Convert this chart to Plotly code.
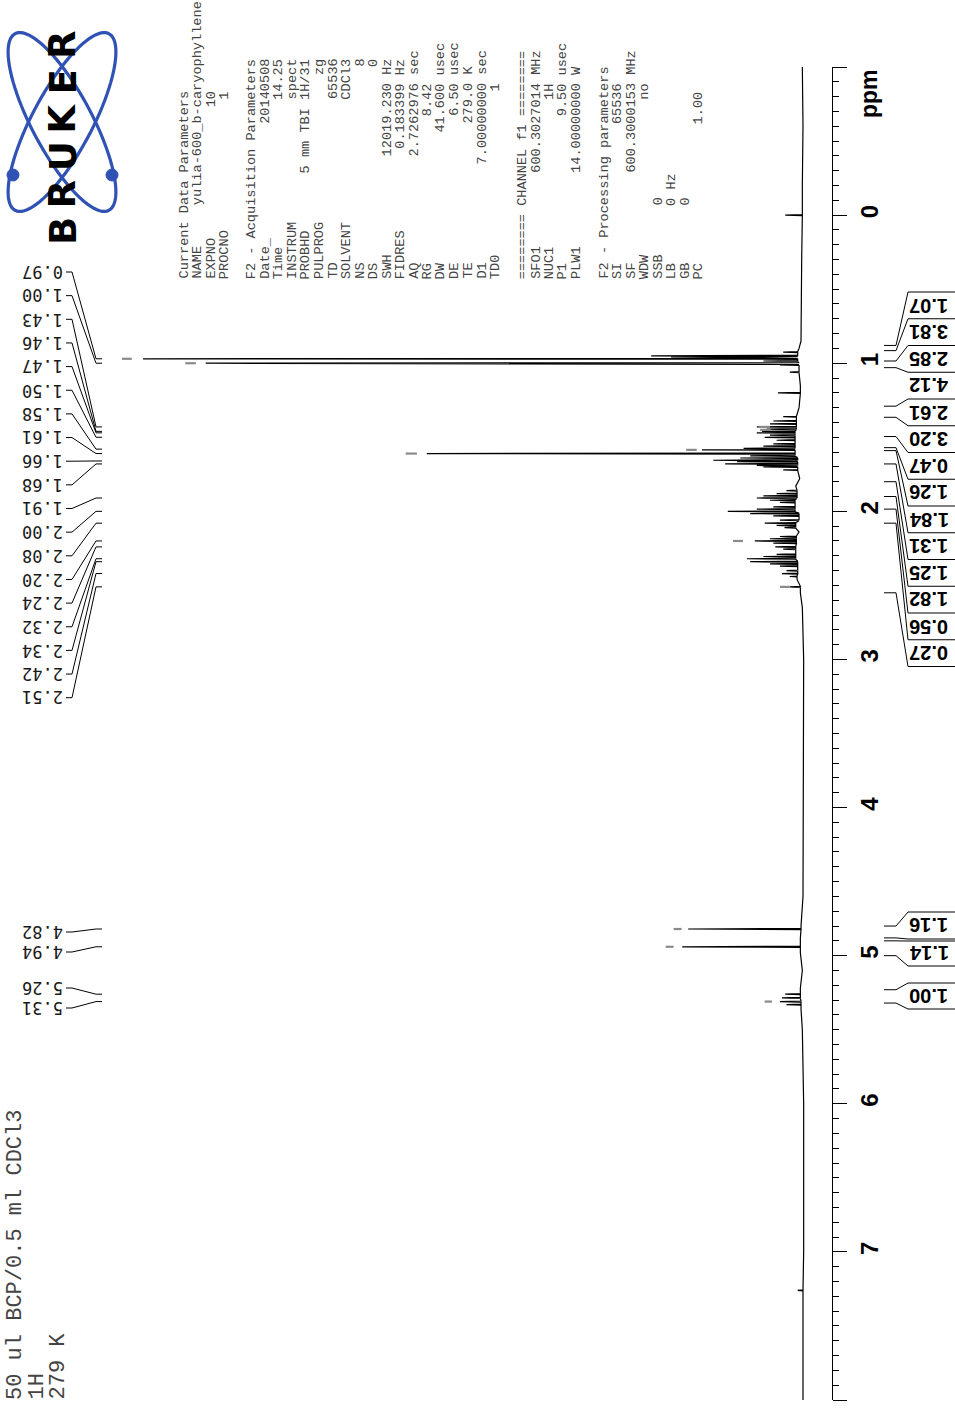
import numpy as np
import plotly.graph_objects as go

# ---------------- data ----------------
# spectrum baseline control points (ppm, relative intensity)
baseline_ppm = [-1.00, -0.60, -0.20, 0.30, 0.60, 0.85, 0.90, 0.94, 1.05, 1.15, 1.30, 1.36, 1.53, 1.72, 1.78,
                1.83, 1.87, 1.96, 2.05, 2.10, 2.14, 2.19, 2.27, 2.38, 2.46, 2.55, 2.65, 3.00, 4.00, 4.60,
                4.80, 4.88, 4.98, 5.10, 5.22, 5.36, 5.50, 6.00, 7.00, 7.20, 8.00]
baseline_int = [0.1, 0.0, 0.1, 0.2, 0.3, 0.3, 0.6, 0.8, 0.6, 0.4, 0.6, 1.0, 1.2, 0.8, 0.5,
                1.1, 0.9, 1.2, 0.6, 1.1, 0.6, 1.0, 1.1, 0.8, 0.9, 0.4, 0.1, -0.1, -0.1, 0.0,
                0.3, 0.4, 0.4, 0.1, 0.4, 0.3, 0.1, -0.1, -0.1, 0.0, 0.0]

# peak lines (ppm, relative intensity, tallest = 100)
peak_ppm = [0.000, 0.925, 0.950, 0.958, 0.970, 0.985, 1.000, 1.012, 1.060, 1.200,
            1.360, 1.390, 1.410, 1.430, 1.445, 1.460, 1.470, 1.485, 1.500, 1.520,
            1.545, 1.560, 1.575, 1.585, 1.610, 1.625, 1.640, 1.655, 1.665, 1.680,
            1.690, 1.700, 1.720, 1.860, 1.880, 1.895, 1.910, 1.925, 1.940, 1.970,
            1.985, 2.000, 2.015, 2.030, 2.060, 2.080, 2.095, 2.110, 2.170, 2.185,
            2.200, 2.215, 2.240, 2.255, 2.290, 2.305, 2.320, 2.340, 2.355, 2.370,
            2.400, 2.420, 2.440, 2.510, 4.820, 4.940, 5.260, 5.285, 5.310, 5.330, 7.260]
peak_int = [2.7, 3.0, 23.0, 20.0, 100.0, 6.0, 90.5, 3.5, 2.0, 3.8,
            3.0, 4.5, 5.0, 7.0, 5.5, 6.2, 7.0, 5.0, 5.8, 4.0,
            4.5, 6.0, 9.0, 15.3, 57.0, 8.0, 9.5, 13.6, 10.0, 11.8,
            7.0, 6.0, 3.0, 2.5, 4.0, 6.0, 7.0, 5.0, 3.5, 4.5,
            7.0, 11.4, 8.0, 4.5, 3.5, 5.8, 4.0, 2.8, 3.5, 5.0,
            7.3, 4.5, 4.2, 3.0, 4.0, 6.0, 8.5, 8.0, 5.0, 3.5,
            2.5, 3.2, 2.0, 2.0, 17.4, 18.3, 2.7, 3.2, 3.5, 2.5, 0.8]

# integral-curve fragments (ppm, intensity start, intensity end)
integ_dash_ppm = [0.970, 1.000, 1.610, 1.585, 1.430, 1.450, 2.200, 2.510, 4.820, 4.940, 5.310]
integ_dash_from = [103.2, 93.6, 60.2, 17.7, 6.7, 6.5, 10.6, 3.5, 19.6, 20.8, 5.8]
integ_dash_to = [101.7, 92.0, 58.5, 16.1, 5.0, 4.9, 9.1, 2.0, 18.4, 19.6, 4.7]

# peak-pick labels
label_ppm_a = [0.97, 1.00, 1.43, 1.46, 1.47, 1.50, 1.58, 1.61, 1.66, 1.68,
               1.91, 2.00, 2.08, 2.20, 2.24, 2.32, 2.34, 2.42, 2.51]
label_ppm_b = [4.82, 4.94, 5.26, 5.31]

# integrals
integral_values_a = [1.07, 3.81, 2.85, 4.12, 2.61, 3.20, 0.47, 1.26, 1.84, 1.31, 1.25, 1.82, 0.56, 0.27]
integral_edges_a = [0.88, 0.915, 0.985, 1.03, 1.29, 1.365, 1.495, 1.57, 1.59, 1.68, 1.80, 1.90, 1.985, 2.08, 2.55]
integral_values_b = [1.16, 1.14, 1.00]
integral_start_b = [4.80, 4.90, 5.23]
integral_end_b = [4.88, 5.00, 5.32]

# axis
tick_values = list(range(-1, 9))
tick_labels = [""] + [str(v) for v in range(0, 8)] + [""]

# acquisition / processing parameter listing: (label, value, unit, value end column)
param_rows = [
    ("Current Data Parameters", "", "", 0),
    ("NAME", "yulia-600_b-caryophyllene", "", 34),
    ("EXPNO", "10", "", 23),
    ("PROCNO", "1", "", 23),
    ("", "", "", 0),
    ("F2 - Acquisition Parameters", "", "", 0),
    ("Date_", "20140508", "", 27),
    ("Time", "14.25", "", 27),
    ("INSTRUM", "spect", "", 27),
    ("PROBHD", "5 mm TBI 1H/31", "", 27),
    ("PULPROG", "zg", "", 27),
    ("TD", "65536", "", 27),
    ("SOLVENT", "CDCl3", "", 27),
    ("NS", "8", "", 27),
    ("DS", "0", "", 27),
    ("SWH", "12019.230", "Hz", 24),
    ("FIDRES", "0.183399", "Hz", 24),
    ("AQ", "2.7262976", "sec", 24),
    ("RG", "8.42", "", 24),
    ("DW", "41.600", "usec", 24),
    ("DE", "6.50", "usec", 24),
    ("TE", "279.0", "K", 24),
    ("D1", "7.00000000", "sec", 24),
    ("TD0", "1", "", 24),
    ("", "", "", 0),
    ("======== CHANNEL f1 ========", "", "", 0),
    ("SFO1", "600.3027014", "MHz", 24),
    ("NUC1", "1H", "", 24),
    ("P1", "9.50", "usec", 24),
    ("PLW1", "14.00000000", "W", 24),
    ("", "", "", 0),
    ("F2 - Processing parameters", "", "", 0),
    ("SI", "65536", "", 24),
    ("SF", "600.3000153", "MHz", 24),
    ("WDW", "no", "", 24),
    ("SSB", "0", "", 10),
    ("LB", "0", "Hz", 10),
    ("GB", "0", "", 10),
    ("PC", "1.00", "", 23),
]
title_lines = ["50 ul BCP/0.5 ml CDCl3", "1H", "279 K"]
logo_letters = ["B", "R", "U", "K", "E", "R"]

# ---------------- geometry ----------------
W, H = 955, 1409
PX0, PX1, PY0, PY1 = 0, 832, 67, 1400      # plot area in pixels
Y_RANGE = [8.0, -1.0]
X_RANGE = [121.67, -4.394]


def fx(x):            # pixel x -> paper x
    return (x - PX0) / (PX1 - PX0)


def fy(y):            # pixel y -> paper y
    return (PY1 - y) / (PY1 - PY0)


def ppm_paper(p):     # ppm -> paper y through the y-axis range
    return (Y_RANGE[0] - p) / (Y_RANGE[0] - Y_RANGE[1])


def paper_to_px_y(v):
    return PY1 - v * (PY1 - PY0)


# ---------------- spectrum polyline ----------------
HW = 0.0035
pts = list(zip(baseline_ppm, baseline_int))
for p, h in zip(peak_ppm, peak_int):
    j = int(np.argmin([abs(b - p) for b in baseline_ppm]))
    foot = baseline_int[j]
    pts += [(p - HW, foot), (p, h), (p + HW, foot)]
pts.sort(key=lambda t: t[0])
spec_y = [t[0] for t in pts]
spec_x = [t[1] for t in pts]

fig = go.Figure()
fig.add_trace(go.Scatter(x=spec_x, y=spec_y, mode="lines",
                         line=dict(color="black", width=1.2), hoverinfo="skip"))

dx, dy = [], []
for p, a, b in zip(integ_dash_ppm, integ_dash_from, integ_dash_to):
    dx += [a, b, None]
    dy += [p, p, None]
fig.add_trace(go.Scatter(x=dx, y=dy, mode="lines",
                         line=dict(color="#8a8a8a", width=2.2), hoverinfo="skip"))

shapes = []
annotations = []
LINE = dict(color="black", width=1)

# ---------------- peak labels ----------------
def add_peak_labels(vals, ycenters):
    for v, yl in zip(vals, ycenters):
        yp = paper_to_px_y(ppm_paper(v))
        path = "M {} {} L {} {} L {} {} L {} {}".format(
            fx(66), fy(yl), fx(72), fy(yl), fx(96), fy(yp), fx(102), fy(yp))
        shapes.append(dict(type="path", xref="paper", yref="paper", path=path, line=LINE))
        annotations.append(dict(x=fx(43), y=fy(yl), xref="paper", yref="paper",
                                text=f"{v:.2f}", showarrow=False, textangle=180,
                                xanchor="center", yanchor="middle",
                                font=dict(family="DejaVu Sans Mono", size=17, color="#1a1a1a")))

add_peak_labels(label_ppm_a, [272 + 23.65 * i for i in range(len(label_ppm_a))])
add_peak_labels(label_ppm_b, [932, 952, 988, 1008])

# ---------------- integrals ----------------
IX0, IX1, IX2, IX3 = 884, 896, 908, 956

def bracket(p, ybox):
    yp = paper_to_px_y(ppm_paper(p))
    return "M {} {} L {} {} L {} {} L {} {}".format(
        fx(IX0), fy(yp), fx(IX1), fy(yp), fx(IX2), fy(ybox), fx(IX3), fy(ybox))

box_edges = [292 + 26.75 * k for k in range(len(integral_edges_a))]
for e, yb in zip(integral_edges_a, box_edges):
    shapes.append(dict(type="path", xref="paper", yref="paper", path=bracket(e, yb), line=LINE))
for k, v in enumerate(integral_values_a):
    annotations.append(dict(x=fx(929), y=fy((box_edges[k] + box_edges[k + 1]) / 2),
                            xref="paper", yref="paper", text=f"{v:.2f}", showarrow=False,
                            textangle=180, xanchor="center", yanchor="middle",
                            font=dict(family="Liberation Sans", size=20, color="black", weight="bold")))

boxes_b = [(912, 939), (941, 966), (983, 1009)]
for v, a, b, (t, btm) in zip(integral_values_b, integral_start_b, integral_end_b, boxes_b):
    shapes.append(dict(type="path", xref="paper", yref="paper", path=bracket(a, t), line=LINE))
    shapes.append(dict(type="path", xref="paper", yref="paper", path=bracket(b, btm), line=LINE))
    annotations.append(dict(x=fx(929), y=fy((t + btm) / 2), xref="paper", yref="paper",
                            text=f"{v:.2f}", showarrow=False, textangle=180,
                            xanchor="center", yanchor="middle",
                            font=dict(family="Liberation Sans", size=20, color="black", weight="bold")))

# ---------------- ppm label ----------------
annotations.append(dict(x=fx(869), y=fy(93), xref="paper", yref="paper", text="ppm",
                        showarrow=False, textangle=-90, xanchor="center", yanchor="middle",
                        font=dict(family="Liberation Sans", size=23, color="black", weight="bold")))

# ---------------- parameter listing ----------------
NB = "\u00a0"
for i, (lab, val, unit, endc) in enumerate(param_rows):
    if not lab:
        continue
    s = lab
    if val:
        s = lab + NB * max(1, endc - len(lab) - len(val)) + val.replace(" ", NB)
        if unit:
            s += NB + unit
    annotations.append(dict(x=fx(183.5 + 13.55 * i), y=fy(281), xref="paper", yref="paper",
                            text=s, showarrow=False, textangle=-90,
                            xanchor="center", yanchor="bottom",
                            font=dict(family="Liberation Mono", size=13.6, color="#444444")))

# ---------------- title lines bottom-left ----------------
for i, s in enumerate(title_lines):
    annotations.append(dict(x=fx(15 + 21.5 * i), y=fy(1402), xref="paper", yref="paper",
                            text=s.replace(" ", NB), showarrow=False, textangle=-90,
                            xanchor="center", yanchor="bottom",
                            font=dict(family="Liberation Mono", size=22, color="#444444")))

# ---------------- Bruker logo ----------------
LOGO_BLUE = "#3152b5"
def ellipse_path(cx, cy, a, b, tilt):
    t = np.linspace(0, 2 * np.pi, 90)
    th = np.deg2rad(tilt)
    ux, uy = np.sin(th), np.cos(th)
    vx, vy = np.cos(th), -np.sin(th)
    xs = cx + a * np.cos(t) * ux + b * np.sin(t) * vx
    ys = cy + a * np.cos(t) * uy + b * np.sin(t) * vy
    d = "M " + " L ".join(f"{fx(x):.5f} {fy(y):.5f}" for x, y in zip(xs, ys)) + " Z"
    return d

for tilt in (28, -28):
    shapes.append(dict(type="path", xref="paper", yref="paper", path=ellipse_path(62, 122, 100, 30, tilt),
                       line=dict(color=LOGO_BLUE, width=3.2), layer="below"))
for cx in (13, 112):
    shapes.append(dict(type="circle", xref="paper", yref="paper",
                       x0=fx(cx - 6), x1=fx(cx + 6), y0=fy(175 + 6), y1=fy(175 - 6),
                       fillcolor=LOGO_BLUE, line=dict(color=LOGO_BLUE, width=1)))
for i, ch in enumerate(logo_letters):
    annotations.append(dict(x=fx(63), y=fy(231 - 37.4 * i), xref="paper", yref="paper",
                            text=ch, showarrow=False, textangle=-90, xanchor="center", yanchor="middle",
                            font=dict(family="DejaVu Sans", size=37, color="black", weight="bold")))

fig.update_layout(
    width=W, height=H, template="none",
    paper_bgcolor="white", plot_bgcolor="white",
    margin=dict(l=PX0, r=W - PX1, t=PY0, b=H - PY1, autoexpand=False),
    showlegend=False,
    xaxis=dict(range=X_RANGE, visible=False, fixedrange=True),
    yaxis=dict(range=Y_RANGE, side="right", showline=True, linecolor="black", linewidth=1,
               ticks="outside", ticklen=14, tickwidth=1, tickcolor="black",
               tickmode="array", tickvals=tick_values, ticktext=tick_labels,
               tickangle=-90, ticklabelstandoff=2, automargin=False,
               tickfont=dict(family="Liberation Sans", size=24, color="black", weight="bold"),
               minor=dict(ticks="outside", ticklen=6, tickwidth=1, tickcolor="black",
                          dtick=0.1, tick0=0, showgrid=False),
               showgrid=False, zeroline=False, fixedrange=True),
    shapes=shapes, annotations=annotations,
)

fig.write_html("out.html", config={"displayModeBar": False},
               post_script="document.body.style.margin='0px';document.body.style.overflow='hidden';")
